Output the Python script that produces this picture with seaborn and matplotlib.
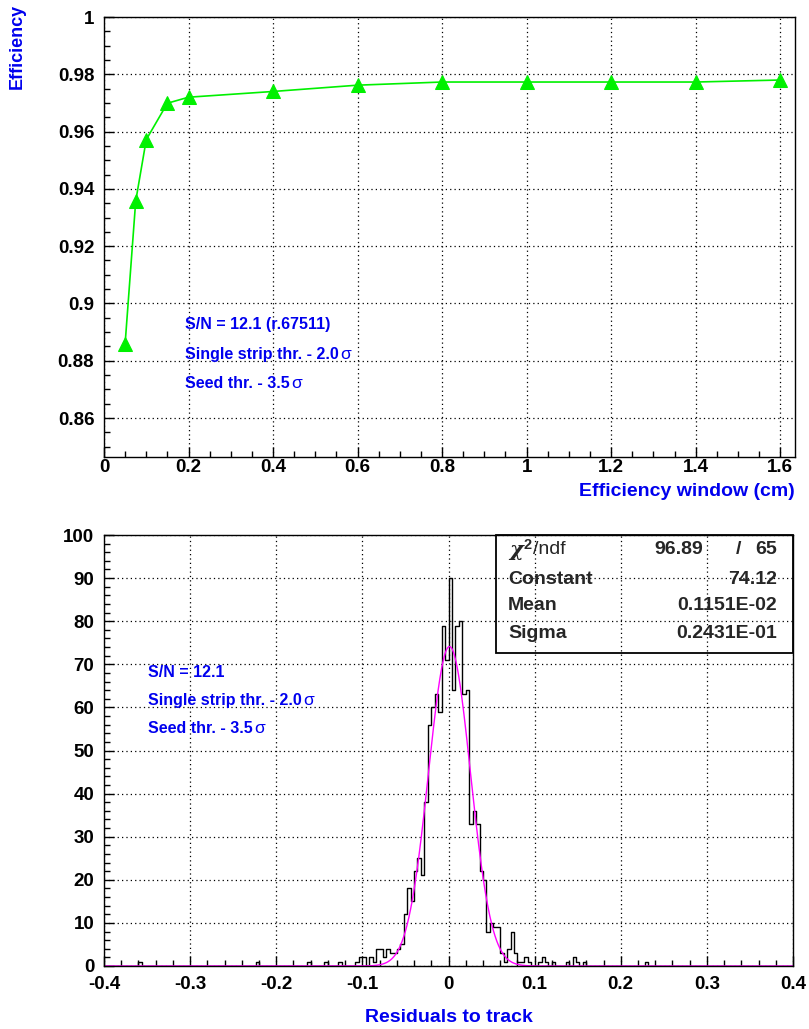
import numpy as np
import matplotlib
matplotlib.use("Agg")
import matplotlib.pyplot as plt
import seaborn as sns
from matplotlib.ticker import MultipleLocator, FuncFormatter
from matplotlib.patches import Rectangle

# --- efficiency vs. window size ---
window_cm = [0.05, 0.075, 0.1, 0.15, 0.2, 0.4, 0.6, 0.8, 1.0, 1.2, 1.4, 1.6]
efficiency = [0.886, 0.9357, 0.9572, 0.9699, 0.972, 0.974, 0.9762, 0.9773,
              0.9773, 0.9773, 0.9773, 0.978]

# --- residual histogram: 200 bins of 0.004 over [-0.4, 0.4] ---
bin_width = 0.004
resid_bin = [-90, -56, -41, -36, -32, -27, -26, -25, -23, -22, -21, -20, -19,
             -18, -17, -16, -15, -14, -13, -12, -11, -10, -9, -8, -7, -6, -5,
             -4, -3, -2, -1, 0, 1, 2, 3, 4, 5, 6, 7, 8, 9, 10, 11, 12, 13, 14,
             15, 16, 17, 18, 19, 20, 21, 22, 23, 26, 27, 28, 30, 34, 36, 37,
             39, 57]
resid_count = [1, 1, 1, 1, 1, 1, 2, 2, 2, 1, 4, 4, 2,
               4, 3, 3, 4, 5, 12, 18, 15, 22, 25, 21, 38, 56, 60,
               63, 59, 79, 71, 90, 64, 79, 80, 63, 64, 33, 36, 33, 22, 20, 8,
               10, 9, 9,
               3, 1, 4, 8, 3, 1, 1, 2, 1, 1, 2, 1, 1, 1, 2, 1,
               1, 1]

# Gaussian fit parameters
fit_const = 74.12
fit_mean = 0.1151e-02
fit_sigma = 0.2431e-01
fit_chi2 = 96.89
fit_ndf = 65

label_lines_top = ["S/N = 12.1 (r.67511)", "Single strip thr. - 2.0σ",
                   "Seed thr. - 3.5σ"]
label_lines_bot = ["S/N = 12.1", "Single strip thr. - 2.0σ",
                   "Seed thr. - 3.5σ"]

sns.set_theme(style="ticks")
plt.rcParams["font.family"] = ["Liberation Sans", "DejaVu Sans"]
plt.rcParams["font.weight"] = "bold"
plt.rcParams["axes.unicode_minus"] = False
plt.rcParams["mathtext.fontset"] = "custom"
plt.rcParams["mathtext.rm"] = "Liberation Sans"
plt.rcParams["mathtext.it"] = "DejaVu Serif:italic"

W, H = 809, 1029
fig = plt.figure(figsize=(W / 100, H / 100), dpi=100)
fig.patch.set_facecolor("white")

BLUE = "#0000ee"
TICK_FS = 13.5
TITLE_FS = 14
NOTE_FS = 11.5
STAT_FS = 14


def fmt(v, pos):
    return "%g" % round(v, 6)


def style_axes(ax):
    for sp in ax.spines.values():
        sp.set_color("black")
        sp.set_linewidth(1.0)
    ax.tick_params(which="both", direction="in", colors="black",
                   top=False, right=False, labelsize=TICK_FS, width=1.0)
    ax.tick_params(which="major", length=7, pad=7)
    ax.tick_params(which="minor", length=4)
    ax.grid(True, which="major", color="black", linestyle=(0, (1, 2.5)),
            linewidth=0.9)
    ax.set_axisbelow(True)
    ax.xaxis.set_major_formatter(FuncFormatter(fmt))
    ax.yaxis.set_major_formatter(FuncFormatter(fmt))
    for t in ax.get_xticklabels() + ax.get_yticklabels():
        t.set_fontweight("bold")
    ax.set_xlabel("")
    ax.set_ylabel("")


def note(ax, x, y, s):
    # blue bold label with a regular-weight sigma
    head, sig = (s[:-1], "σ") if s.endswith("σ") else (s, "")
    t = ax.text(x, y, head, transform=ax.transAxes, color=BLUE,
                fontsize=NOTE_FS, fontweight="bold", va="center", ha="left")
    if sig:
        fig.canvas.draw()
        bb = t.get_window_extent()
        inv = ax.transAxes.inverted()
        x1 = inv.transform((bb.x1, bb.y0))[0]
        ax.text(x1 + 0.002, y, sig, transform=ax.transAxes, color=BLUE,
                fontsize=NOTE_FS + 1, fontweight="normal", va="center",
                ha="left")


# ---------------- top panel ----------------
ax1 = fig.add_axes([104 / W, 1 - 457 / H, 691 / W, 440 / H])
sns.lineplot(x=window_cm, y=efficiency, ax=ax1, color="#00f000",
             linewidth=1.2, marker="^", markersize=10,
             markeredgecolor="#00f000", markerfacecolor="#00f000")
ax1.set_xlim(0, 1.635)
ax1.set_ylim(0.8464, 1.0)
ax1.xaxis.set_major_locator(MultipleLocator(0.2))
ax1.xaxis.set_minor_locator(MultipleLocator(0.05))
ax1.yaxis.set_major_locator(MultipleLocator(0.02))
ax1.yaxis.set_minor_locator(MultipleLocator(0.005))
style_axes(ax1)
ax1.tick_params(axis="x", which="major", pad=1.5)

for i, s in enumerate(label_lines_top):
    note(ax1, 0.117, 0.30 - i * 0.066, s)

fig.text(17 / W, 1 - 4 / H, "Efficiency", rotation=90, color=BLUE,
         fontsize=13, fontweight="bold", ha="center", va="top")
fig.text(795 / W, 1 - 491 / H, "Efficiency window (cm)", color=BLUE,
         fontsize=TITLE_FS, fontweight="bold", ha="right", va="center")

# ---------------- bottom panel ----------------
ax2 = fig.add_axes([104 / W, 1 - 966 / H, 689 / W, 431 / H])
centers = (np.array(resid_bin) + 0.5) * bin_width
sns.histplot(x=centers, weights=resid_count, bins=200, binrange=(-0.4, 0.4),
             element="step", fill=False, color="black", linewidth=1.0, ax=ax2)
xs = np.linspace(-0.4, 0.4, 1601)
ys = fit_const * np.exp(-0.5 * ((xs - fit_mean) / fit_sigma) ** 2)
sns.lineplot(x=xs, y=ys, ax=ax2, color="#ff00ff", linewidth=1.0, sort=False,
             estimator=None)
ax2.set_xlim(-0.4, 0.4)
ax2.set_ylim(0, 100)
ax2.xaxis.set_major_locator(MultipleLocator(0.1))
ax2.xaxis.set_minor_locator(MultipleLocator(0.02))
ax2.yaxis.set_major_locator(MultipleLocator(10))
ax2.yaxis.set_minor_locator(MultipleLocator(2))
style_axes(ax2)

for i, s in enumerate(label_lines_bot):
    note(ax2, 0.064, 0.680 - i * 0.064, s)


def fx(px):
    return (px - 104) / 689


def fy(py):
    return (966 - py) / 431


# fit statistics box
ax2.add_patch(Rectangle((fx(496), fy(653)), 1 - fx(496), 1 - fy(653),
                        transform=ax2.transAxes, fill=False,
                        edgecolor="black", linewidth=1.3, clip_on=False,
                        zorder=5))
rows_y = [fy(550), fy(579), fy(606), fy(634)]
xl = fx(508)
xr = fx(777)
ax2.text(xl, rows_y[0], "$\\chi^{2}$", transform=ax2.transAxes, fontsize=15,
         fontweight="normal", va="center", ha="left", zorder=6)
ax2.text(xl + 0.036, rows_y[0], "/ndf", transform=ax2.transAxes,
         fontsize=STAT_FS, fontweight="normal", va="center", ha="left",
         zorder=6)
ax2.text(fx(703), rows_y[0], "%.2f" % fit_chi2, transform=ax2.transAxes,
         fontsize=STAT_FS, va="center", ha="right", zorder=6)
ax2.text(fx(738), rows_y[0], "/", transform=ax2.transAxes,
         fontsize=STAT_FS, va="center", ha="center", zorder=6)
ax2.text(xr, rows_y[0], "%d" % fit_ndf, transform=ax2.transAxes,
         fontsize=STAT_FS, va="center", ha="right", zorder=6)
stats = [("Constant", "%.2f" % fit_const),
         ("Mean", "0.1151E-02"),
         ("Sigma", "0.2431E-01")]
for (name, val), yy in zip(stats, rows_y[1:]):
    ax2.text(xl, yy, name, transform=ax2.transAxes, fontsize=STAT_FS,
             va="center", ha="left", zorder=6)
    ax2.text(xr, yy, val, transform=ax2.transAxes, fontsize=STAT_FS,
             va="center", ha="right", zorder=6)

fig.text(449 / W, 1 - 1017 / H, "Residuals to track", color=BLUE,
         fontsize=TITLE_FS, fontweight="bold", ha="center", va="center")

fig.savefig("out.png", dpi=100)
